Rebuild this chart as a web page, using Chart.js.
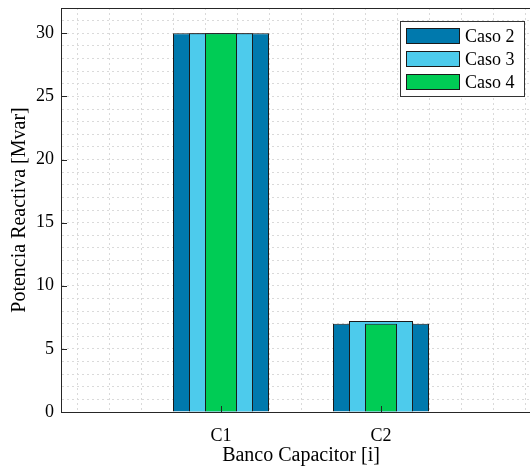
<!DOCTYPE html>
<html lang="es">
<head>
    <meta charset="UTF-8">
    <title>Banco Capacitor</title>
    <script src="https://cdn.jsdelivr.net/npm/chart.js"></script>
    <style>
        body { margin: 0; overflow: hidden; background: #fff; }
        #wrap { width: 530px; height: 466px; overflow: hidden; }
    </style>
</head>
<body>
    <div id="wrap">
        <canvas id="qChart" width="560" height="466"></canvas>
    </div>

    <script>
        // chart data
        var categories = ['C1', 'C2'];
        var seriesNames = ['Caso 2', 'Caso 3', 'Caso 4'];
        var caso2 = [30, 7];
        var caso3 = [30, 7.2];
        var caso4 = [30, 7];
        var yTickLabels = [0, 5, 10, 15, 20, 25, 30];

        var serif = "'Liberation Serif', 'Times New Roman', serif";
        var gridColor = '#dadada';
        var axisColor = '#262626';

        function toPoints(values) {
            return values.map(function (v, i) { return { x: i + 1, y: v }; });
        }

        // no extra room for half tick labels at the ends
        function noPad(s) {
            s.paddingTop = 0; s.paddingBottom = 0;
            s.paddingLeft = 0; s.paddingRight = 0;
        }

        // inward ticks, top border and boxed legend (MATLAB look)
        var matlabBits = {
            id: 'matlabBits',
            afterDatasetsDraw: function (chart) {
                var ctx = chart.ctx;
                var a = chart.chartArea;
                var sx = chart.scales.x;
                var sy = chart.scales.y;
                ctx.save();
                ctx.strokeStyle = axisColor;
                ctx.lineWidth = 1;
                ctx.beginPath();
                ctx.moveTo(a.left, a.top + 0.5);
                ctx.lineTo(a.right, a.top + 0.5);
                yTickLabels.forEach(function (v) {
                    var y = Math.round(sy.getPixelForValue(v)) + 0.5;
                    ctx.moveTo(a.left, y);
                    ctx.lineTo(a.left + 6, y);
                });
                categories.forEach(function (c, i) {
                    var x = Math.round(sx.getPixelForValue(i + 1)) + 0.5;
                    ctx.moveTo(x, a.bottom);
                    ctx.lineTo(x, a.bottom - 6);
                });
                ctx.stroke();

                // legend box
                var lx = 400, ly = 21, lw = 124, lh = 75;
                ctx.fillStyle = '#fff';
                ctx.fillRect(lx, ly, lw, lh);
                ctx.strokeStyle = '#333';
                ctx.strokeRect(lx + 0.5, ly + 0.5, lw, lh);
                ctx.font = '18px ' + serif;
                ctx.textBaseline = 'middle';
                chart.data.datasets.forEach(function (ds, i) {
                    var cy = ly + 15 + i * 23;
                    ctx.fillStyle = ds.backgroundColor;
                    ctx.fillRect(lx + 6, cy - 8, 54, 16);
                    ctx.strokeStyle = '#1a1a1a';
                    ctx.strokeRect(lx + 6.5, cy - 7.5, 53, 15);
                    ctx.fillStyle = '#000';
                    ctx.fillText(ds.label, lx + 65, cy + 1);
                });
                ctx.restore();
            }
        };

        var ctx = document.getElementById('qChart').getContext('2d');
        var myChart = new Chart(ctx, {
            type: 'bar',
            data: {
                datasets: [{
                    label: seriesNames[0],
                    data: toPoints(caso2),
                    backgroundColor: '#0079AD',
                    barPercentage: 0.6,
                    order: 3
                }, {
                    label: seriesNames[1],
                    data: toPoints(caso3),
                    backgroundColor: '#4DCBEC',
                    barPercentage: 0.4,
                    order: 2
                }, {
                    label: seriesNames[2],
                    data: toPoints(caso4),
                    backgroundColor: '#00CC55',
                    barPercentage: 0.2,
                    order: 1
                }]
            },
            options: {
                responsive: false,
                animation: false,
                datasets: {
                    bar: {
                        grouped: false,
                        categoryPercentage: 1,
                        borderWidth: 1,
                        borderColor: '#1a1a1a'
                    }
                },
                layout: { padding: { top: 8, right: 19, left: 0, bottom: 0 } },
                plugins: {
                    legend: { display: false },
                    tooltip: { enabled: false }
                },
                scales: {
                    x: {
                        type: 'linear',
                        offset: false,
                        min: 0,
                        max: 3,
                        afterFit: function (s) { s.height = 54; noPad(s); },
                        ticks: {
                            stepSize: 1,
                            autoSkip: false,
                            padding: 5,
                            color: '#000',
                            font: { family: serif, size: 18 },
                            callback: function (v) { return categories[v - 1] || ''; }
                        },
                        grid: { display: false },
                        border: { color: axisColor, width: 1 },
                        title: {
                            display: true,
                            text: 'Banco Capacitor [i]',
                            color: '#000',
                            font: { family: serif, size: 20, lineHeight: 1 },
                            padding: { top: 0, bottom: 0 }
                        }
                    },
                    xg: {
                        type: 'linear',
                        position: 'bottom',
                        offset: false,
                        min: 0,
                        max: 3,
                        afterFit: function (s) { s.height = 0; noPad(s); },
                        ticks: { display: false, stepSize: 0.2 },
                        grid: { color: gridColor, drawTicks: false },
                        border: { display: false, dash: [2, 3] }
                    },
                    y: {
                        min: 0,
                        max: 32,
                        afterFit: function (s) { s.width = 61; noPad(s); },
                        ticks: {
                            stepSize: 1,
                            autoSkip: false,
                            padding: 7,
                            color: '#000',
                            font: { family: serif, size: 18 },
                            callback: function (v) { return yTickLabels.indexOf(v) >= 0 ? String(v) : ''; }
                        },
                        grid: { color: gridColor, drawTicks: false },
                        border: { color: axisColor, width: 1, dash: [2, 3] },
                        title: {
                            display: true,
                            text: 'Potencia Reactiva [Mvar]',
                            color: '#000',
                            font: { family: serif, size: 20, lineHeight: 1.2 },
                            padding: { top: 8, bottom: 0 }
                        }
                    }
                }
            },
            plugins: [matlabBits]
        });
    </script>
</body>
</html>
